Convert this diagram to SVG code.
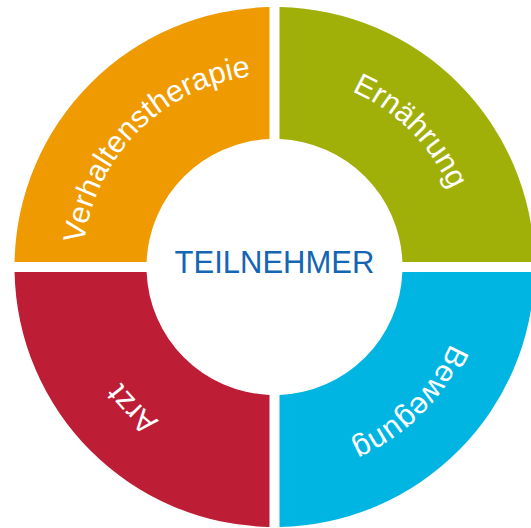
<svg xmlns="http://www.w3.org/2000/svg" xmlns:xlink="http://www.w3.org/1999/xlink" width="531" height="528" viewBox="0 0 531 528">
  <style>
    .seg-label { font-family: "Liberation Sans", Arial, sans-serif; font-size: 30.5px; fill: #ffffff; }
    .center-label { font-family: "Liberation Sans", Arial, sans-serif; font-size: 31px; fill: #1466b3; }
  </style>
  <defs>
    <path id="arcTL" d="M 82.5 267 A 192 192 0 0 1 274.5 75"/>
    <path id="arcTR" d="M 274.5 75 A 192 192 0 0 1 466.5 267"/>
    <path id="arcBR" d="M 466.5 267 A 192 192 0 0 1 274.5 459"/>
    <path id="arcBL" d="M 274.5 459 A 192 192 0 0 1 82.5 267"/>
  </defs>
  <rect width="531" height="528" fill="#ffffff"/>
  <g id="verhaltenstherapie">
    <path d="M 14.55 262 A 260 260 0 0 1 269.5 7.05 L 269.5 139.1 A 128 128 0 0 0 146.6 262 Z" fill="#ef9a00"/>
    <text class="seg-label"><textPath xlink:href="#arcTL" href="#arcTL" startOffset="50%" text-anchor="middle">Verhaltenstherapie</textPath></text>
  </g>
  <g id="ernaehrung">
    <path d="M 279.5 7.05 A 260 260 0 0 1 534.45 262 L 402.4 262 A 128 128 0 0 0 279.5 139.1 Z" fill="#a0b009"/>
    <text class="seg-label"><textPath xlink:href="#arcTR" href="#arcTR" startOffset="50%" text-anchor="middle">Ernährung</textPath></text>
  </g>
  <g id="bewegung">
    <path d="M 534.45 272 A 260 260 0 0 1 279.5 526.95 L 279.5 394.9 A 128 128 0 0 0 402.4 272 Z" fill="#00b5e2"/>
    <text class="seg-label"><textPath xlink:href="#arcBR" href="#arcBR" startOffset="50%" text-anchor="middle">Bewegung</textPath></text>
  </g>
  <g id="arzt">
    <path d="M 269.5 526.95 A 260 260 0 0 1 14.55 272 L 146.6 272 A 128 128 0 0 0 269.5 394.9 Z" fill="#be1d36"/>
    <text class="seg-label"><textPath xlink:href="#arcBL" href="#arcBL" startOffset="50%" text-anchor="middle">Arzt</textPath></text>
  </g>
  <g id="teilnehmer">
    <text class="center-label" x="274.5" y="273.3" text-anchor="middle">TEILNEHMER</text>
  </g>
  <g id="connectors"/>
</svg>
